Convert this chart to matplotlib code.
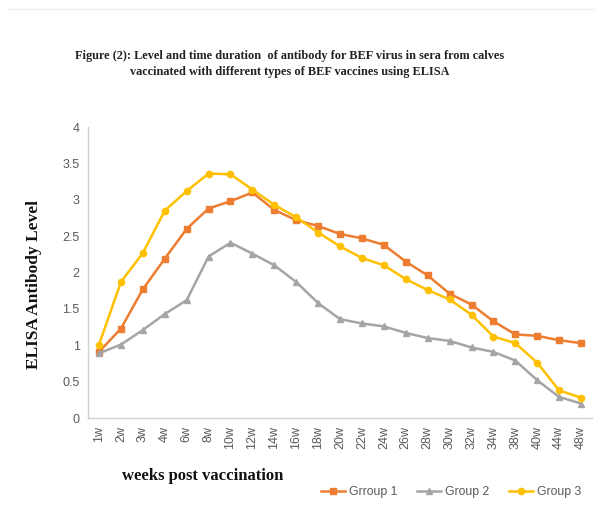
import matplotlib
matplotlib.use("Agg")
import matplotlib.pyplot as plt
from matplotlib.lines import Line2D

weeks = ["1w", "2w", "3w", "4w", "6w", "8w", "10w", "12w", "14w", "16w", "18w", "20w",
         "22w", "24w", "26w", "28w", "30w", "32w", "34w", "38w", "40w", "44w", "48w"]
group1 = [0.91, 1.23, 1.77, 2.19, 2.60, 2.88, 2.98, 3.10, 2.86, 2.72, 2.64, 2.53,
          2.47, 2.38, 2.15, 1.96, 1.71, 1.56, 1.33, 1.15, 1.13, 1.07, 1.03]
group2 = [0.89, 1.01, 1.21, 1.43, 1.62, 2.22, 2.41, 2.26, 2.10, 1.87, 1.58, 1.36,
          1.30, 1.26, 1.17, 1.10, 1.06, 0.97, 0.91, 0.79, 0.52, 0.29, 0.20]
group3 = [1.01, 1.87, 2.27, 2.85, 3.12, 3.36, 3.35, 3.14, 2.93, 2.76, 2.55, 2.36,
          2.20, 2.10, 1.91, 1.76, 1.63, 1.42, 1.12, 1.03, 0.76, 0.38, 0.28]
series_names = ["Grroup 1", "Group 2", "Group 3"]
yticks = [0, 0.5, 1, 1.5, 2, 2.5, 3, 3.5, 4]

c1, c2, c3 = "#ED7D31", "#A5A5A5", "#FFC000"
tick_color = "#595959"

fig = plt.figure(figsize=(5.95, 5.08), dpi=100)
ax = fig.add_axes([0.148, 0.177, 0.847, 0.573])

x = list(range(len(weeks)))
ax.plot(x, group1, color=c1, marker="s", markersize=4.5, linewidth=1.8, label=series_names[0])
ax.plot(x, group2, color=c2, marker="^", markersize=4.5, linewidth=1.8, label=series_names[1])
ax.plot(x, group3, color=c3, marker="o", markersize=4.5, linewidth=1.8, label=series_names[2])

ax.set_xlim(-0.5, len(weeks) - 0.5)
ax.set_ylim(0, 4)
ax.set_yticks(yticks)
ax.set_yticklabels([f"{v:g}" for v in yticks], fontsize=9, color=tick_color,
                   family="Liberation Sans")
ax.set_xticks(x)
ax.set_xticklabels(weeks, rotation=90, fontsize=9, color=tick_color, family="Liberation Sans")
ax.tick_params(axis="both", length=0, pad=6)
for s in ["top", "right"]:
    ax.spines[s].set_visible(False)
for s in ["left", "bottom"]:
    ax.spines[s].set_color("#D0D0D0")
    ax.spines[s].set_linewidth(1.0)

fig.text(0.487, 0.874, "Figure (2): Level and time duration  of antibody for BEF virus in sera from calves\nvaccinated with different types of BEF vaccines using ELISA",
         ha="center", va="center", fontsize=8.8, fontweight="bold", family="Liberation Serif",
         color="#222222", linespacing=1.5)

fig.text(0.057, 0.44, "ELISA Antibody Level", rotation=90, ha="center", va="center",
         fontsize=12.5, fontweight="bold", family="Liberation Serif", color="#111111")
fig.text(0.205, 0.063, "weeks post vaccination", ha="left", va="center",
         fontsize=12, fontweight="bold", family="Liberation Serif", color="#111111")

leg = fig.legend(loc="center", bbox_to_anchor=(0.758, 0.031), ncol=3, frameon=False,
                 prop={"family": "Liberation Sans", "size": 8.8},
                 handlelength=2.0, columnspacing=1.6, handletextpad=0.3)
for t in leg.get_texts():
    t.set_color(tick_color)

fig.add_artist(Line2D([0.014, 1.0], [0.982, 0.982], color="#EEEEEE", linewidth=1.0,
                      transform=fig.transFigure))

fig.savefig("out.png", dpi=100)
